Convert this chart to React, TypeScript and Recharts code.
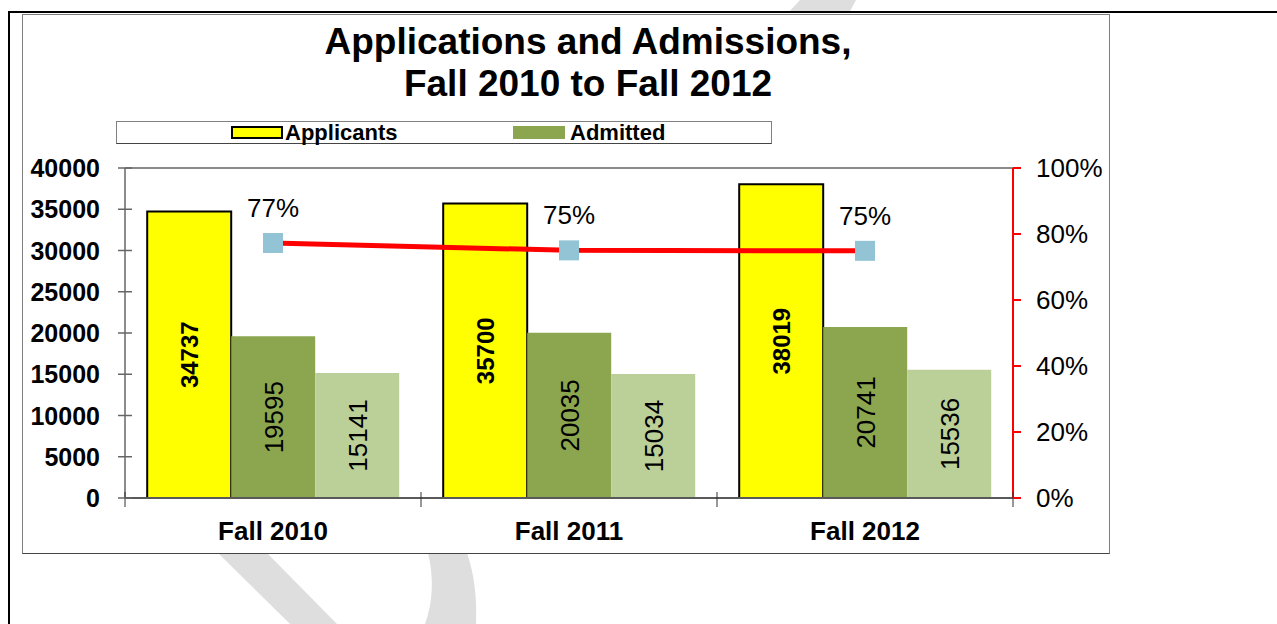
import React from 'react';
import {
  ComposedChart,
  XAxis,
  YAxis,
  Bar,
  Line,
  LabelList,
  ReferenceLine,
} from 'recharts';

// values
const categories = ['Fall 2010', 'Fall 2011', 'Fall 2012'];
const applicants = [34737, 35700, 38019];
const admitted = [19595, 20035, 20741];
const enrolled = [15141, 15034, 15536];
const admitRate = [0.7727, 0.7504, 0.749];
const leftTicks = [0, 5000, 10000, 15000, 20000, 25000, 30000, 35000, 40000];
const rightTicks = [0, 0.2, 0.4, 0.6, 0.8, 1];
const legendItems = [
  { name: 'Applicants', color: '#FFFF00', border: '#000' },
  { name: 'Admitted', color: '#8BA64F', border: 'none' },
];

const data = categories.map((name, i) => ({
  name,
  applicants: applicants[i],
  admitted: admitted[i],
  enrolled: enrolled[i],
  rate: admitRate[i],
}));

const FONT = "Arial, 'Liberation Sans', sans-serif";
const pct = (v: number) => `${Math.round(v * 100)}%`;

const LeftTick = ({ x, y, payload }: any) => (
  <g>
    <line x1={x - 7} y1={y} x2={x + 7} y2={y} stroke="#666" strokeWidth={1.5} />
    <text x={x - 25} y={y} dy="0.36em" textAnchor="end" fontFamily={FONT} fontSize={25} fontWeight="bold" fill="#000">
      {payload.value}
    </text>
  </g>
);

const RightTick = ({ x, y, payload }: any) => (
  <g>
    <line x1={x} y1={y} x2={x + 8} y2={y} stroke="#FF0000" strokeWidth={2} />
    <text x={x + 23} y={y} dy="0.36em" textAnchor="start" fontFamily={FONT} fontSize={26} fill="#000">
      {pct(payload.value)}
    </text>
  </g>
);

const BottomTick = ({ x, y, payload, index, visibleTicksCount, width }: any) => {
  const half = width / visibleTicksCount / 2;
  return (
    <g>
      <line x1={x - half} y1={y - 6} x2={x - half} y2={y + 9} stroke="#333" strokeWidth={1} />
      {index === visibleTicksCount - 1 && (
        <line x1={x + half} y1={y - 6} x2={x + half} y2={y + 9} stroke="#333" strokeWidth={1} />
      )}
      <text x={x} y={y + 42} textAnchor="middle" fontFamily={FONT} fontSize={26} fontWeight="bold" fill="#000">
        {payload.value}
      </text>
    </g>
  );
};

const barLabel = (bold: boolean, size: number) => (props: any) => {
  const { x, y, width, height, value } = props;
  const cx = x + width / 2;
  const cy = y + height / 2;
  return (
    <text
      x={cx}
      y={cy}
      dy="0.36em"
      textAnchor="middle"
      transform={`rotate(-90 ${cx} ${cy})`}
      fontFamily={FONT}
      fontSize={size}
      fontWeight={bold ? 'bold' : 'normal'}
      fill="#000"
    >
      {value}
    </text>
  );
};

const rateLabel = (props: any) => {
  const { x, y, value } = props;
  return (
    <text x={x} y={y - 26} textAnchor="middle" fontFamily={FONT} fontSize={26} fill="#000">
      {pct(value)}
    </text>
  );
};

const SquareDot = (props: any) => {
  const { cx, cy } = props;
  return <rect x={cx - 10} y={cy - 10} width={20} height={20} fill="#93C4D5" />;
};

export default function App() {
  return (
    <div style={{ position: 'fixed', left: 0, top: 0, width: 1277, height: 624, background: '#fff', overflow: 'hidden', fontFamily: FONT }}>
      {/* page border and watermark */}
      <svg width={1277} height={624} style={{ position: 'absolute', left: 0, top: 0 }}>
        <polygon points="800,0 856,0 849,13 788,13" fill="#DEDEDE" />
        <polygon points="218,553 267,553 337,624 290,624" fill="#DEDEDE" />
        <path d="M428,553 C434,578 433,602 425,624 L476,624 C477,600 475,576 467,553 Z" fill="#DEDEDE" />
        <line x1={9} y1={12} x2={1277} y2={12} stroke="#000" strokeWidth={2} />
        <line x1={9} y1={11} x2={9} y2={624} stroke="#000" strokeWidth={2} />
      </svg>

      <div
        style={{
          position: 'absolute',
          left: 22,
          top: 14,
          width: 1088,
          height: 540,
          boxSizing: 'border-box',
          border: '1px solid #7f7f7f',
          borderBottomColor: '#444',
          background: '#fff',
        }}
      >
        <div
          style={{
            position: 'absolute',
            left: 0,
            top: 6,
            width: 1130,
            textAlign: 'center',
            fontSize: 37,
            lineHeight: '42px',
            fontWeight: 'bold',
            color: '#000',
          }}
        >
          <div>Applications and Admissions,</div>
          <div>Fall 2010 to Fall 2012</div>
        </div>

        <div
          style={{
            position: 'absolute',
            left: 93,
            top: 106,
            width: 656,
            height: 23,
            boxSizing: 'border-box',
            border: '1px solid #808080',
            borderBottomColor: '#444',
            background: '#fff',
            zIndex: 2,
          }}
        >
          {legendItems.map((item, i) => (
            <div key={item.name} style={{ position: 'absolute', left: i === 0 ? 114 : 396, top: 0, height: 21, display: 'flex', alignItems: 'center' }}>
              <span
                style={{
                  display: 'inline-block',
                  width: 52,
                  height: 13,
                  boxSizing: 'border-box',
                  background: item.color,
                  border: item.border === 'none' ? 'none' : `2px solid ${item.border}`,
                  marginRight: i === 0 ? 2 : 5,
                }}
              />
              <span style={{ fontSize: 22, fontWeight: 'bold', lineHeight: '21px' }}>{item.name}</span>
            </div>
          ))}
        </div>

        <ComposedChart
          width={1086}
          height={538}
          data={data}
          margin={{ top: 153, right: 0, bottom: 0, left: 0 }}
          barCategoryGap="7.5%"
          barGap={0}
        >
          <XAxis
            dataKey="name"
            height={55}
            tickSize={0}
            tickMargin={0}
            tick={<BottomTick />}
            tickLine={false}
            axisLine={{ stroke: '#595959', strokeWidth: 2 }}
            interval={0}
          />
          <YAxis
            yAxisId="left"
            width={102}
            domain={[0, 40000]}
            ticks={leftTicks}
            tickSize={0}
            tickMargin={0}
            tick={<LeftTick />}
            tickLine={false}
            axisLine={{ stroke: '#666', strokeWidth: 1.5 }}
            interval={0}
          />
          <YAxis
            yAxisId="right"
            orientation="right"
            width={96}
            domain={[0, 1]}
            ticks={rightTicks}
            tickSize={0}
            tickMargin={0}
            tick={<RightTick />}
            tickLine={false}
            axisLine={{ stroke: '#FF0000', strokeWidth: 2 }}
            interval={0}
          />
          <ReferenceLine yAxisId="left" y={40000} stroke="#8a8a8a" strokeWidth={2} />
          <Bar yAxisId="left" dataKey="applicants" name="Applicants" fill="#FFFF00" stroke="#000" strokeWidth={2} isAnimationActive={false}>
            <LabelList dataKey="applicants" content={barLabel(true, 24)} />
          </Bar>
          <Bar yAxisId="left" dataKey="admitted" name="Admitted" fill="#8BA64F" isAnimationActive={false}>
            <LabelList dataKey="admitted" content={barLabel(false, 26)} />
          </Bar>
          <Bar yAxisId="left" dataKey="enrolled" name="Enrolled" fill="#BBCF99" isAnimationActive={false}>
            <LabelList dataKey="enrolled" content={barLabel(false, 26)} />
          </Bar>
          <Line
            yAxisId="right"
            type="linear"
            dataKey="rate"
            stroke="#FF0000"
            strokeWidth={5}
            dot={<SquareDot />}
            activeDot={false}
            isAnimationActive={false}
          >
            <LabelList dataKey="rate" content={rateLabel} />
          </Line>
        </ComposedChart>
      </div>
    </div>
  );
}
